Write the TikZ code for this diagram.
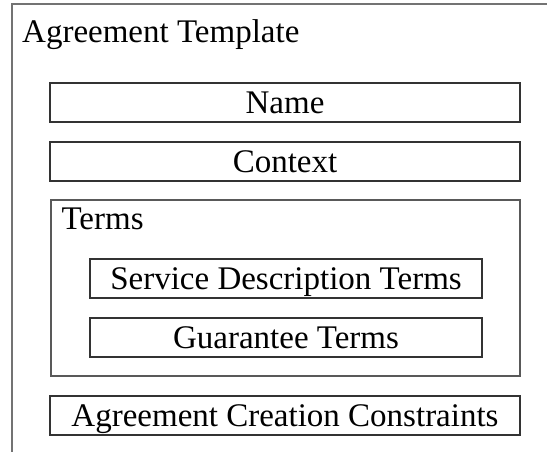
\documentclass[tikz,border=0pt]{standalone}
\usepackage{fontspec}
\setmainfont{Liberation Serif}
\usetikzlibrary{calc}
\newcommand*{\picw }{547}
\newcommand*{\pich }{452}
\newcommand*{\bxw  }{470pt}
\newcommand*{\inw  }{392pt}
\newcommand*{\bxh  }{39pt}

\begin{document}
\begin{tikzpicture}[x=1pt, y=-1pt,
        box/.style={draw=black!80, line width=1.2pt, inner sep=0pt, minimum height=\bxh, text height=22pt, text depth=0pt},
        lbl/.style={inner sep=0pt, anchor=north west, text height=22pt, text depth=0pt}]
    \useasboundingbox (0,0) rectangle (\picw,\pich);
    \fill [white] (0,0) rectangle (\picw,\pich);
    \begin{scope}
        \clip (0,0) rectangle (\picw,\pich);
        \draw [draw=black!55, line width=2pt] (11.5,4.5) rectangle (\picw+20,\pich+20);
    \end{scope}
    \begin{scope}[font=\fontsize{33}{40}\selectfont]
        \node [lbl] (template) at (22,20) {Agreement Template};
        \node [box, minimum width=\bxw] (name)    at (285,102.5) {Name};
        \node [box, minimum width=\bxw] (context) at (285,161.5) {Context};
        \node [draw=black!65, line width=1.3pt, minimum width=469pt, minimum height=176pt, inner sep=0pt] (terms) at (285.5,288) {};
        \node [lbl] (termslbl) at ($(terms.north west)+(11,8)$) {Terms};
        \node [box, minimum width=\inw] (sdt)       at (286,278.5) {Service Description Terms};
        \node [box, minimum width=\inw] (guarantee) at (286,337.5) {Guarantee Terms};
        \node [box, minimum width=\bxw] (creation)  at (285,415.5) {Agreement Creation Constraints};
    \end{scope}
\end{tikzpicture}
\end{document}
